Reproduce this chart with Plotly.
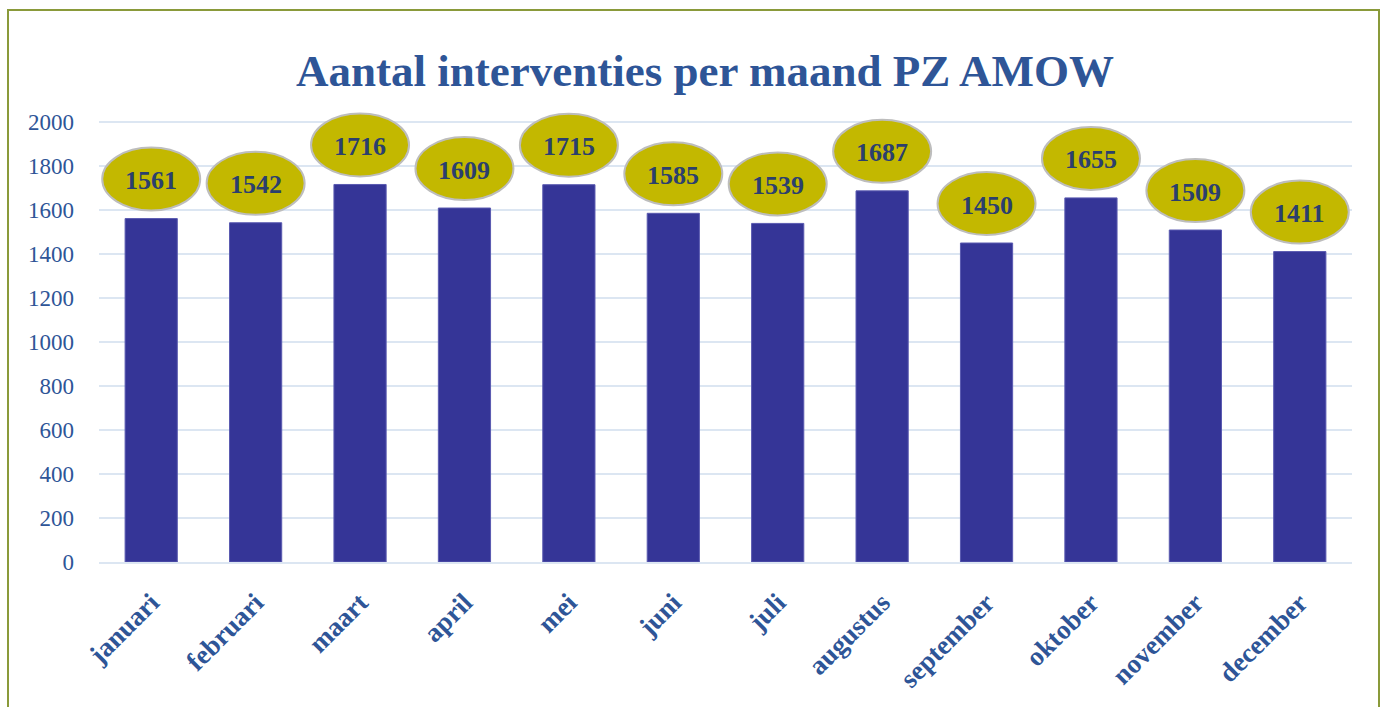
import plotly.graph_objects as go

months = ["januari", "februari", "maart", "april", "mei", "juni", "juli",
          "augustus", "september", "oktober", "november", "december"]
values = [1561, 1542, 1716, 1609, 1715, 1585, 1539, 1687, 1450, 1655, 1509, 1411]
y_ticks = [0, 200, 400, 600, 800, 1000, 1200, 1400, 1600, 1800, 2000]

SERIF = "Liberation Serif, DejaVu Serif, serif"
TEXT_BLUE = "#2e5597"
LABEL_BLUE = "#2b3f6e"

fig = go.Figure()
fig.add_trace(go.Bar(
    x=months, y=values, width=0.5,
    marker=dict(color="#353597", line=dict(color="#5a5ab0", width=1)),
    hoverinfo="x+y",
))

shapes = []
annotations = []
for i, (m, v) in enumerate(zip(months, values)):
    shapes.append(dict(
        type="circle", xref="x", yref="y",
        xsizemode="pixel", ysizemode="pixel",
        xanchor=i, yanchor=v,
        x0=-49, x1=49, y0=8, y1=71,
        fillcolor="#c3b800", line=dict(color="#bdbdbd", width=2), layer="above",
    ))
    annotations.append(dict(
        x=m, y=v, xref="x", yref="y", text=str(v), showarrow=False,
        yshift=38, font=dict(family=SERIF, size=26, color=LABEL_BLUE, weight="bold"),
    ))

W, H = 1382, 707
l, r, t, b = 99, 30, 100, 145
pw, ph = W - l - r, H - t - b
shapes.append(dict(
    type="rect", xref="paper", yref="paper",
    x0=(8 - l) / pw, x1=(1379 - l) / pw,
    y0=(H - b - 730) / ph, y1=(H - b - 10) / ph,
    line=dict(color="#8a9a3a", width=2), fillcolor="rgba(0,0,0,0)", layer="below",
))

fig.update_layout(
    width=W, height=H,
    margin=dict(l=l, r=r, t=t, b=b),
    paper_bgcolor="white", plot_bgcolor="white",
    title=dict(text="<b>Aantal interventies per maand PZ AMOW</b>",
               x=705 / W, xref="container", xanchor="center",
               y=1 - 70 / H, yref="container", yanchor="middle",
               font=dict(family=SERIF, size=45, color=TEXT_BLUE)),
    showlegend=False,
    bargap=0.5,
    shapes=shapes,
    annotations=annotations,
    xaxis=dict(
        tickangle=-45, showgrid=False, showline=True, linecolor="#dce6f2", linewidth=2,
        tickfont=dict(family=SERIF, size=27, color=TEXT_BLUE, weight="bold"),
        ticks="", ticklabelstandoff=12,
    ),
    yaxis=dict(
        range=[0, 2100], tickvals=y_ticks, showgrid=True, gridcolor="#dce6f2", gridwidth=2,
        zeroline=False, ticks="", ticklabelstandoff=24,
        tickfont=dict(family=SERIF, size=23, color=TEXT_BLUE),
    ),
)

fig.write_html(
    "out.html",
    config={"displayModeBar": False},
    post_script="document.body.style.margin='0';document.body.style.overflow='hidden';",
)
